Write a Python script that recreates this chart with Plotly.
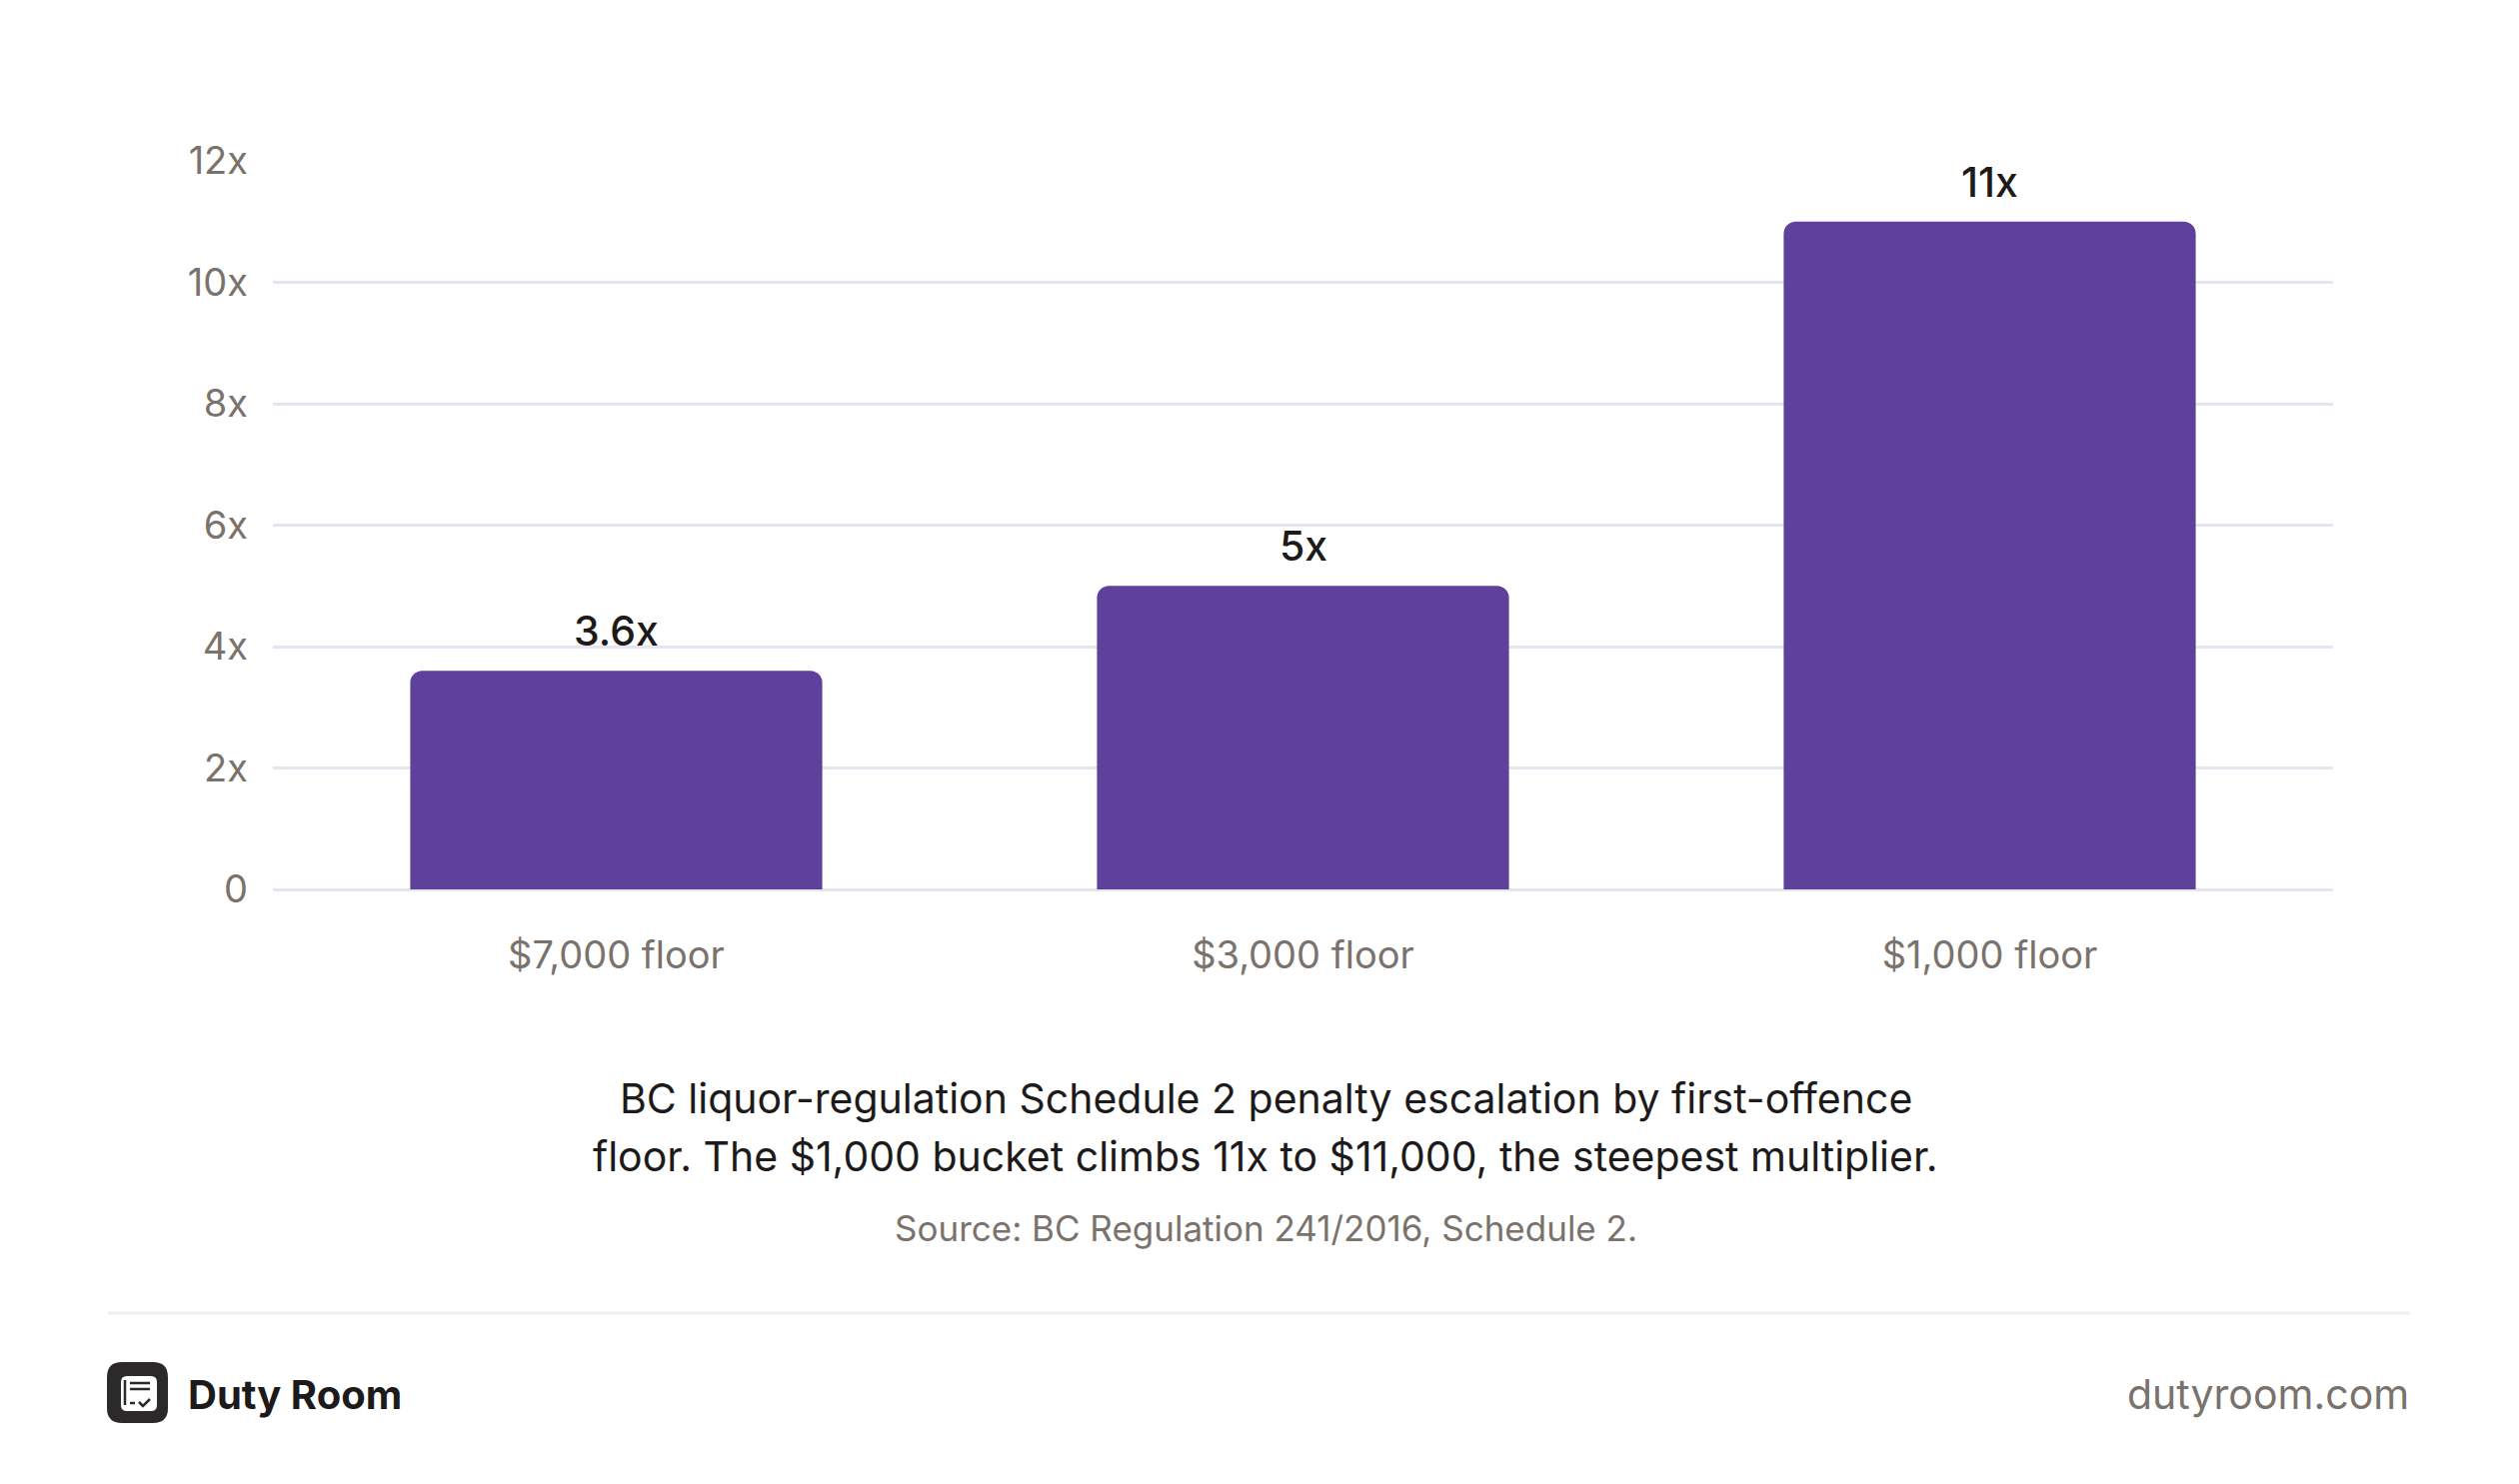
import plotly.graph_objects as go

# chart values
categories = ["$7,000 floor", "$3,000 floor", "$1,000 floor"]
multipliers = [3.6, 5, 11]
bar_labels = ["3.6x", "5x", "11x"]
y_ticks = [0, 2, 4, 6, 8, 10, 12]
y_tick_labels = ["0", "2x", "4x", "6x", "8x", "10x", "12x"]

caption_lines = ["BC liquor-regulation Schedule 2 penalty escalation by first-offence",
                 "floor. The $1,000 bucket climbs 11x to $11,000, the steepest multiplier."]
source = "Source: BC Regulation 241/2016, Schedule 2."

PURPLE = "#5E419B"
GRID = "#E7E4F0"
GREY = "#7A726C"
INK = "#1C1A1A"
FONT = "Inter"

W, H = 2504, 1469
ML, MR, MT, MB = 265, 178, 153, 587
PW, PH = W - ML - MR, H - MT - MB


def px(x):
    # page pixel (reference coords) -> paper x
    return (x - 8 - ML) / PW


def py(y):
    return 1 - (y - 8 - MT) / PH


fig = go.Figure()
fig.add_trace(go.Bar(
    x=categories, y=multipliers, width=0.6,
    marker=dict(color=PURPLE, cornerradius=12, line=dict(width=0)),
    hoverinfo="skip",
))

for c, v, t in zip(categories, multipliers, bar_labels):
    fig.add_annotation(x=c, y=v, text=t, showarrow=False, yanchor="bottom",
                       yshift=13, font=dict(family=FONT, size=41, color=INK, weight=500))

for line, yy in zip(caption_lines, [1099, 1157]):
    fig.add_annotation(xref="paper", yref="paper", x=px(1266), y=py(yy), text=line,
                       showarrow=False, xanchor="center", yanchor="middle",
                       font=dict(family=FONT, size=41, color=INK))
fig.add_annotation(xref="paper", yref="paper", x=px(1266), y=py(1229), text=source,
                   showarrow=False, xanchor="center", yanchor="middle",
                   font=dict(family=FONT, size=35, color=GREY))

# footer
fig.add_shape(type="line", xref="paper", yref="paper", x0=px(108), x1=px(2411),
              y0=py(1314), y1=py(1314), line=dict(color="#F0EEEE", width=3))
fig.add_annotation(xref="paper", yref="paper", x=px(186), y=py(1395), text="<b>Duty Room</b>",
                   showarrow=False, xanchor="left", yanchor="middle",
                   font=dict(family=FONT, size=40, color=INK))
fig.add_annotation(xref="paper", yref="paper", x=px(2412), y=py(1395), text="dutyroom.com",
                   showarrow=False, xanchor="right", yanchor="middle",
                   font=dict(family=FONT, size=41, color=GREY))

# logo: dark rounded square with a small document + check
lx0, ly0, s = 107, 1363, 61
LOGO = "#2B2929"


def rpath(x0, y0, x1, y1, r):
    a, b, c, d = px(x0), px(x1), py(y0), py(y1)
    rx, ry = r / PW, r / PH
    return (f"M{a+rx},{c} L{b-rx},{c} Q{b},{c} {b},{c-ry} L{b},{d+ry} Q{b},{d} {b-rx},{d} "
            f"L{a+rx},{d} Q{a},{d} {a},{d+ry} L{a},{c-ry} Q{a},{c} {a+rx},{c} Z")


fig.add_shape(type="path", xref="paper", yref="paper", path=rpath(lx0, ly0, lx0 + s, ly0 + s, 15),
              fillcolor=LOGO, line=dict(width=0))
fig.add_shape(type="path", xref="paper", yref="paper",
              path=rpath(lx0 + 14, ly0 + 14, lx0 + 50, ly0 + 49, 6),
              fillcolor="white", line=dict(width=0))
for seg in [((lx0 + 18, ly0 + 18), (lx0 + 18, ly0 + 43)),
            ((lx0 + 23, ly0 + 21), (lx0 + 43, ly0 + 21)),
            ((lx0 + 23, ly0 + 27), (lx0 + 43, ly0 + 27)),
            ((lx0 + 23, ly0 + 41), (lx0 + 28, ly0 + 41))]:
    (a, b), (c, d) = seg
    fig.add_shape(type="line", xref="paper", yref="paper", x0=px(a), y0=py(b), x1=px(c), y1=py(d),
                  line=dict(color=LOGO, width=2.5))
fig.add_shape(type="path", xref="paper", yref="paper",
              path=f"M{px(lx0+32)},{py(ly0+40)} L{px(lx0+36)},{py(ly0+44)} L{px(lx0+43)},{py(ly0+37)}",
              line=dict(color=LOGO, width=2.5))

fig.update_layout(
    width=W, height=H,
    margin=dict(l=ML, r=MR, t=MT, b=MB),
    paper_bgcolor="white", plot_bgcolor="white",
    showlegend=False, bargap=0.4,
    font=dict(family=FONT, color=GREY),
    xaxis=dict(showgrid=False, showline=False, ticks="", ticklabelstandoff=40,
               tickfont=dict(family=FONT, size=38, color=GREY)),
    yaxis=dict(range=[0, 12], tickvals=y_ticks, ticktext=y_tick_labels,
               showgrid=True, gridcolor=GRID, gridwidth=3, zeroline=True,
               zerolinecolor=GRID, zerolinewidth=3, showline=False, ticks="",
               ticklabelstandoff=24, tickfont=dict(family=FONT, size=38, color=GREY)),
)

fig.write_html("out.html")
